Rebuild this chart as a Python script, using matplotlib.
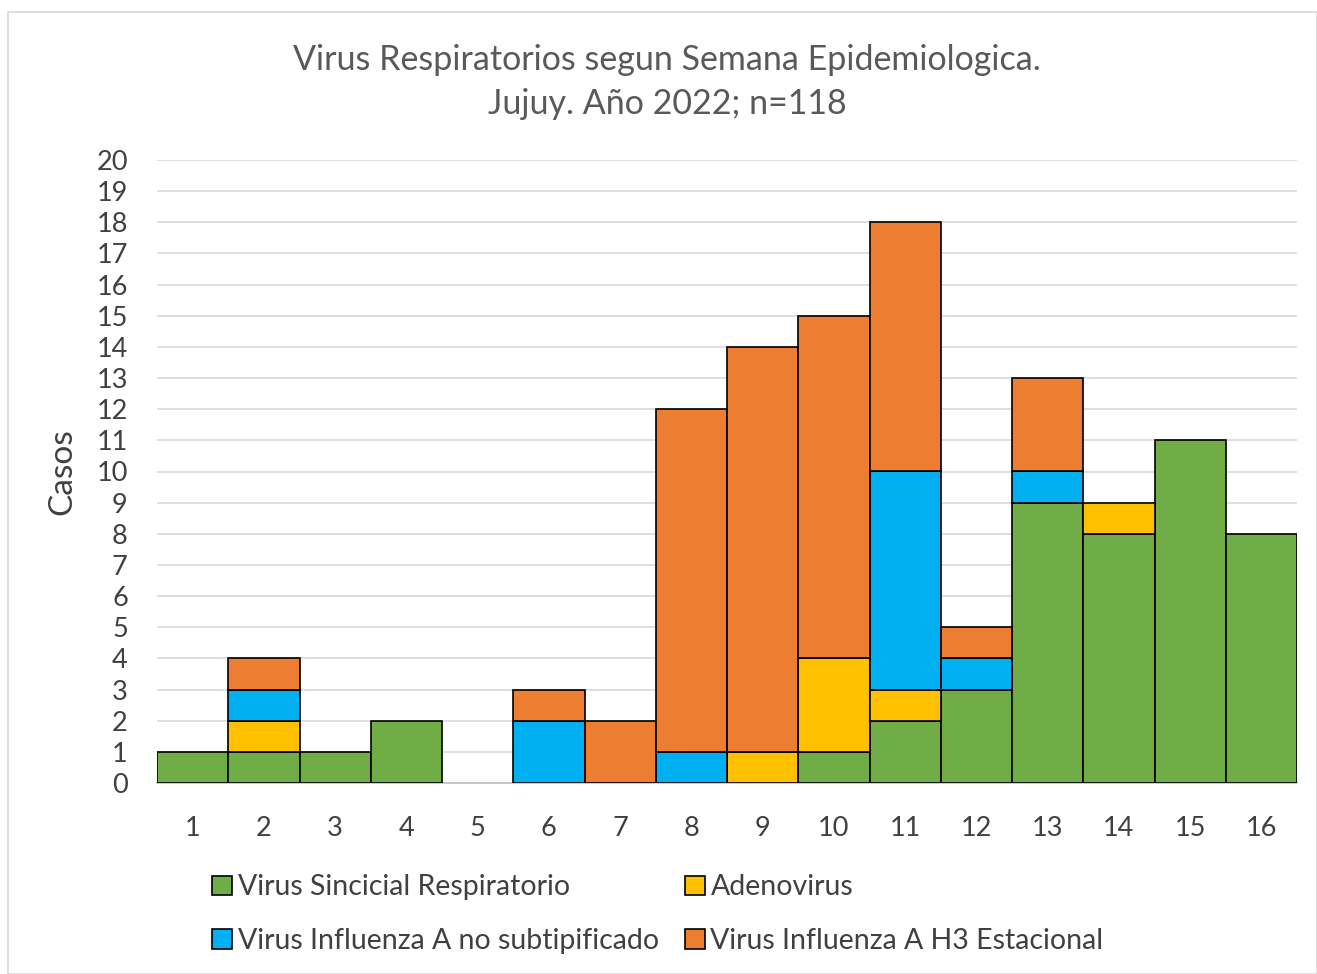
import matplotlib
matplotlib.use("Agg")
import matplotlib.pyplot as plt
from matplotlib.patches import Rectangle, Patch
import numpy as np

weeks = [str(i) for i in range(1, 17)]
vsr   = [1, 1, 1, 2, 0, 0, 0, 0, 0, 1, 2, 3, 9, 8, 11, 8]
adeno = [0, 1, 0, 0, 0, 0, 0, 0, 1, 3, 1, 0, 0, 1, 0, 0]
flua  = [0, 1, 0, 0, 0, 2, 0, 1, 0, 0, 7, 1, 1, 0, 0, 0]
h3    = [0, 1, 0, 0, 0, 1, 2, 11, 13, 11, 8, 1, 3, 0, 0, 0]
series_names = ["Virus Sincicial Respiratorio", "Adenovirus",
                "Virus Influenza A no subtipificado", "Virus Influenza A H3 Estacional"]
colors = ["#70AD47", "#FFC000", "#00B0F0", "#ED7D31"]

plt.rcParams['font.family'] = ['Lato', 'DejaVu Sans']

W, H = 1317, 974
fig = plt.figure(figsize=(W/100, H/100), dpi=100)
fig.patches.append(Rectangle((8/W, 0), (W-8)/W, (H-12)/H, transform=fig.transFigure,
                             fill=False, edgecolor="#D9D9D9", linewidth=1.2))

ax = fig.add_axes([157/W, 1-783/H, (1297-157)/W, (783-160)/H])
x = np.arange(len(weeks))
bottom = np.zeros(len(weeks))
data = [vsr, adeno, flua, h3]
for vals, c, name in zip(data, colors, series_names):
    v = np.array(vals, dtype=float)
    mask = v > 0
    ax.bar(x[mask], v[mask], bottom=bottom[mask], width=1.0, color=c,
           edgecolor="black", linewidth=1.2, zorder=3, label=name)
    bottom += v

ax.set_xlim(-0.5, len(weeks)-0.5)
ax.set_ylim(0, 20)
ax.set_yticks(range(0, 21))
ax.set_xticks(x)
ax.set_xticklabels(weeks)
ax.tick_params(axis='both', length=0, labelsize=19.5, colors="#404040")
ax.tick_params(axis='x', pad=24)
ax.tick_params(axis='y', pad=21)
ax.grid(axis='y', color="#D9D9D9", linewidth=1.2, zorder=0)
for s in ["top", "right", "left"]:
    ax.spines[s].set_visible(False)
ax.spines["bottom"].set_color("#BFBFBF")
ax.spines["bottom"].set_linewidth(1.2)
ax.set_ylabel("Casos", fontsize=24, color="#404040")
ax.yaxis.set_label_coords(-0.07, 0.5)

fig.text(667/W, 1-60/H, "Virus Respiratorios segun Semana Epidemiologica.", ha="center",
         va="center", fontsize=24.5, color="#595959")
fig.text(667/W, 1-104/H, "Jujuy. Año 2022; n=118", ha="center", va="center",
         fontsize=24.5, color="#595959")

handles = [Patch(facecolor=c, edgecolor="black", linewidth=1.2) for c in colors]
order = [0, 2, 1, 3]
leg = fig.legend([handles[i] for i in order], [series_names[i] for i in order],
                 ncol=2, loc="center", bbox_to_anchor=(658/W, 1-914/H), frameon=False,
                 fontsize=20.5, handlelength=0.7, handleheight=0.7, handletextpad=0.2,
                 columnspacing=0.9, labelspacing=0.95, labelcolor="#404040")

fig.savefig("out.png", dpi=100)
